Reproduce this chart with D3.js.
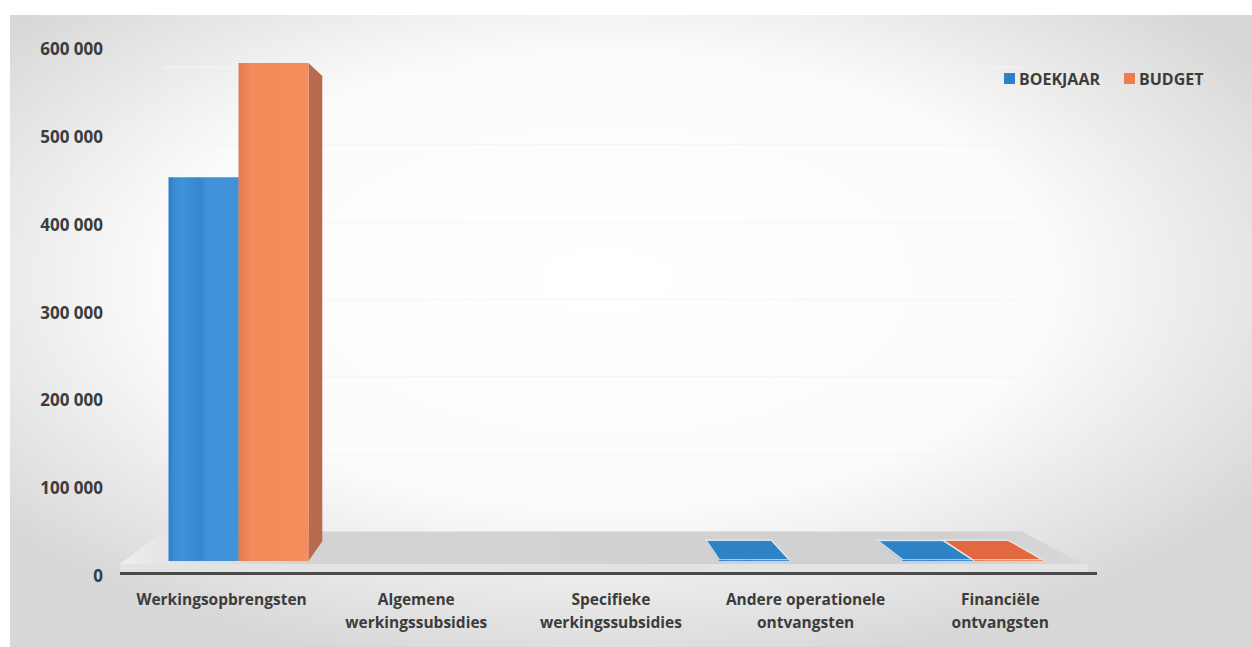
<!DOCTYPE html>
<html>
<head>
<meta charset="utf-8">
<script src="https://cdn.jsdelivr.net/npm/d3@7"></script>
<style>
  html, body { margin: 0; padding: 0; background: #ffffff; }
  svg { display: block; }
  text { font-family: "Open Sans", "Noto Sans", sans-serif; font-weight: 700; fill: #3c3c3c; }
</style>
</head>
<body>
<svg id="chart" width="1252" height="647"></svg>
<script>
// Ontvangsten per rubriek: boekjaar tegenover budget
const categories = [
  "Werkingsopbrengsten",
  "Algemene werkingssubsidies",
  "Specifieke werkingssubsidies",
  "Andere operationele ontvangsten",
  "Financiële ontvangsten"
];
const seriesNames = ["BOEKJAAR", "BUDGET"];
const boekjaar = [447000, null, null, 1500, 1200];
const budget   = [580000, null, null, null, 1400];
const yTicks = [0, 100000, 200000, 300000, 400000, 500000, 600000];

const seriesColors = {
  BOEKJAAR: { front: ["#2c7cc4", "#3a8cd5", "#3f93da", "#3487cf", "#3f92d9"], side: "#2a6ea8", top: "#2d83c5", key: "#2f80c6" },
  BUDGET:   { front: ["#e07a4d", "#e98152", "#f58b5a", "#f48a59", "#f58d5c"], side: "#b86a4f", top: "#e2693f", key: "#ee7d4e" }
};

const svg = d3.select("#chart");
const defs = svg.append("defs");

// chart area background: white centre fading to grey at the edges
const bg = defs.append("radialGradient").attr("id", "bgGrad")
  .attr("cx", "48%").attr("cy", "42%").attr("r", "62%");
bg.append("stop").attr("offset", "0%").attr("stop-color", "#ffffff");
bg.append("stop").attr("offset", "58%").attr("stop-color", "#fbfbfb");
bg.append("stop").attr("offset", "100%").attr("stop-color", "#d8d8d8");

svg.append("rect").attr("x", 10).attr("y", 15).attr("width", 1242).attr("height", 632)
  .attr("fill", "url(#bgGrad)");

// front faces shaded with faint vertical bands
seriesNames.forEach(name => {
  const g = defs.append("linearGradient").attr("id", "front-" + name)
    .attr("x1", "0%").attr("x2", "100%").attr("y1", "0%").attr("y2", "0%");
  const c = seriesColors[name].front;
  [[0, c[0]], [0.08, c[1]], [0.2, c[2]], [0.45, c[3]], [0.55, c[2]], [1, c[4]]]
    .forEach(([o, col]) => g.append("stop").attr("offset", o).attr("stop-color", col));
});

const floorGrad = defs.append("linearGradient").attr("id", "floorGrad")
  .attr("gradientUnits", "userSpaceOnUse").attr("x1", 110).attr("x2", 1090).attr("y1", 0).attr("y2", 0);
[[0, "#f0f0f0"], [0.06, "#e4e4e4"], [0.2, "#d3d3d3"], [0.85, "#d0d0d0"], [1, "#d8d8d8"]]
  .forEach(([o, col]) => floorGrad.append("stop").attr("offset", o).attr("stop-color", col));

// perspective: points in the front plane shrink toward a vanishing point with depth factor s
const vp = { x: 518, y: 262 };
const project = (X, Y, s) => [vp.x + (X - vp.x) * s, vp.y + (Y - vp.y) * s];
const depthFront = 0.99, depthBack = 0.925, floorBack = 0.892, labelDepth = 1.05;

const x = d3.scaleBand().domain(categories).range([143, 1070]);
const xs = d3.scaleBand().domain(seriesNames).range([0, x.bandwidth()]).paddingOuter(0.311);
const y = d3.scaleLinear().domain([0, 600000]).range([564, 43.7]);
const yAxisScale = d3.scaleLinear().domain([0, 600000]).range([576, 49.5]);

const poly = d3.line();
const closed = pts => poly(pts) + "Z";

// floor
const fl = [project(120, y(0), 1), project(1083, y(0), 1),
            project(1083, y(0), floorBack), project(120, y(0), floorBack)];

// very faint gridlines on the back wall
const gridG = svg.append("g");
yTicks.slice(1).forEach(t => {
  const a = project(120, y(t), floorBack), b = project(1083, y(t), floorBack);
  gridG.append("line").attr("x1", a[0]).attr("x2", b[0]).attr("y1", a[1]).attr("y2", b[1])
    .attr("stroke", "#f5f5f5").attr("stroke-width", 1);
});

svg.append("path").attr("d", closed(fl)).attr("fill", "url(#floorGrad)");
svg.append("rect").attr("x", 120).attr("y", y(0)).attr("width", 968).attr("height", 8).attr("fill", "#e3e3e3");
svg.append("line").attr("x1", 120).attr("x2", 1097).attr("y1", 573.5).attr("y2", 573.5)
  .attr("stroke", "#4a4a4a").attr("stroke-width", 3);

// bars as boxes in perspective
const bars = [];
categories.forEach((cat, i) => {
  [[seriesNames[0], boekjaar[i]], [seriesNames[1], budget[i]]].forEach(([name, v]) => {
    if (v == null) return;
    const X0 = x(cat) + xs(name), X1 = X0 + xs.bandwidth();
    bars.push({ cat, name, v, X0, X1 });
  });
});
// painter's order: boxes farther from the vanishing point first
bars.sort((a, b) => Math.abs((b.X0 + b.X1) / 2 - vp.x) - Math.abs((a.X0 + a.X1) / 2 - vp.x));

const barG = svg.append("g");
bars.forEach(b => {
  const yt = y(b.v), yb = y(0), col = seriesColors[b.name];
  const g = barG.append("g");
  if (b.X1 < vp.x) {
    g.append("path").attr("d", closed([project(b.X1, yt, depthFront), project(b.X1, yt, depthBack),
      project(b.X1, yb, depthBack), project(b.X1, yb, depthFront)])).attr("fill", col.side);
  }
  if (b.X0 > vp.x) {
    g.append("path").attr("d", closed([project(b.X0, yt, depthFront), project(b.X0, yt, depthBack),
      project(b.X0, yb, depthBack), project(b.X0, yb, depthFront)])).attr("fill", col.side);
  }
  if (yt > vp.y) {
    g.append("path").attr("d", closed([project(b.X0, yt, depthFront), project(b.X1, yt, depthFront),
      project(b.X1, yt, depthBack), project(b.X0, yt, depthBack)]))
      .attr("fill", col.top).attr("stroke", "rgba(235,242,248,0.8)").attr("stroke-width", 1.5);
  }
  g.append("path").attr("d", closed([project(b.X0, yt, depthFront), project(b.X1, yt, depthFront),
    project(b.X1, yb, depthFront), project(b.X0, yb, depthFront)])).attr("fill", `url(#front-${b.name})`);
});

// value axis
const fmt = d3.formatLocale({ decimal: ",", thousands: " ", grouping: [3], currency: ["", " €"] }).format(",d");
const axisG = svg.append("g").attr("transform", "translate(103,0)")
  .call(d3.axisLeft(yAxisScale).tickValues(yTicks).tickFormat(fmt).tickSize(0).tickPadding(0));
axisG.select(".domain").remove();
axisG.selectAll("text").attr("font-size", 17).attr("fill", "#3c3c3c")
  .style("font-family", '"Open Sans", sans-serif').style("font-weight", 700);

// category labels along the front edge
const labelG = svg.append("g");
categories.forEach(cat => {
  const words = cat.split(" ");
  const lines = words.length > 1 ? [words.slice(0, -1).join(" "), words[words.length - 1]] : [cat];
  const px = project(x(cat) + x.bandwidth() / 2, y(0), labelDepth)[0];
  const t = labelG.append("text").attr("text-anchor", "middle").attr("font-size", 15.5);
  lines.forEach((ln, k) => t.append("tspan").attr("x", px).attr("y", 605 + k * 23).text(ln));
});

// legend
const legend = svg.append("g");
const legendX = [1004, 1124];
seriesNames.forEach((name, i) => {
  legend.append("rect").attr("x", legendX[i]).attr("y", 73).attr("width", 11).attr("height", 11)
    .attr("fill", seriesColors[name].key);
  legend.append("text").attr("x", legendX[i] + 15).attr("y", 84.5).attr("font-size", 16).text(name);
});
</script>
</body>
</html>
